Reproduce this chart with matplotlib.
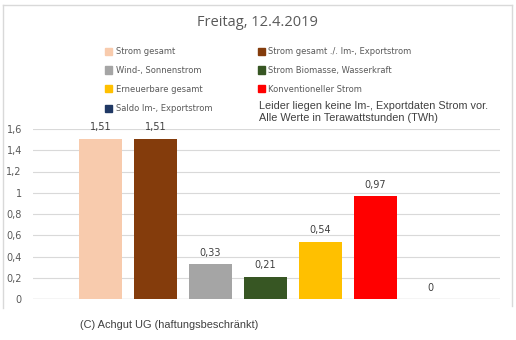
import matplotlib
matplotlib.use("Agg")
import matplotlib.pyplot as plt
from matplotlib.patches import Rectangle
from matplotlib.lines import Line2D

W, H = 516, 340
DPI = 100

title = "Freitag, 12.4.2019"
series = ["Strom gesamt", "Strom gesamt ./. Im-, Exportstrom",
          "Wind-, Sonnenstrom", "Strom Biomasse, Wasserkraft",
          "Erneuerbare gesamt", "Konventioneller Strom",
          "Saldo Im-, Exportstrom"]
values = [1.51, 1.51, 0.33, 0.21, 0.54, 0.97, 0.0]
colors = ["#F8CBAD", "#843C0C", "#A5A5A5", "#375623",
          "#FFC000", "#FF0000", "#203864"]
yticks = [0, 0.2, 0.4, 0.6, 0.8, 1.0, 1.2, 1.4, 1.6]
note = "Leider liegen keine Im-, Exportdaten Strom vor.\nAlle Werte in Terawattstunden (TWh)"
credit = "(C) Achgut UG (haftungsbeschränkt)"

def fmt(v):
    s = f"{v:.2f}".rstrip("0").rstrip(".")
    return s.replace(".", ",")

fig = plt.figure(figsize=(W / DPI, H / DPI), dpi=DPI)
fig.patch.set_facecolor("white")

def fx(px):
    return px / W

def fy(py):
    return 1 - py / H

# outer chart frame (top and sides)
frame_c = "#D9D9D9"
fig.add_artist(Line2D([fx(3), fx(512)], [fy(5), fy(5)], color=frame_c, lw=1.0))
fig.add_artist(Line2D([fx(3), fx(3)], [fy(5), fy(308)], color=frame_c, lw=1.0))
fig.add_artist(Line2D([fx(512), fx(512)], [fy(5), fy(306)], color=frame_c, lw=1.0))

# plot area
left, right, top, bottom = 33, 500, 129, 299
ax = fig.add_axes([fx(left), fy(bottom), fx(right - left), (bottom - top) / H])
pos = list(range(len(values)))
ax.bar(pos, values, width=0.78, color=colors, zorder=3)
ax.set_xlim((left - 100.5) / 55, (right - 100.5) / 55)
ax.set_ylim(0, 1.6)
ax.set_yticks(yticks)
ax.set_yticklabels([fmt(t) if t != 1.0 else "1" for t in yticks])
ax.tick_params(axis="y", length=0, pad=8, labelsize=7, labelcolor="#595959")
ax.set_xticks([])
for lab in ax.get_yticklabels():
    lab.set_fontfamily("DejaVu Sans")
ax.grid(axis="y", color="#D9D9D9", lw=0.8, zorder=0)
for s in ax.spines.values():
    s.set_visible(False)
ax.axhline(0, color="#D9D9D9", lw=1.0, zorder=2)
ax.patch.set_alpha(0)

for p, v in zip(pos, values):
    ax.annotate(fmt(v), (p, v), xytext=(0, 4.5), textcoords="offset points",
                ha="center", va="bottom", fontsize=7, color="#404040",
                family="DejaVu Sans")

# title
fig.text(fx(257), fy(23), title, ha="center", va="center", fontsize=10.5,
         color="#595959", family="Open Sans")

# legend
rows = [51.5, 70, 89, 108.5]
cols = [(108, 116), (261, 268)]
for i, (name, c) in enumerate(zip(series, colors)):
    col = i % 2
    row = i // 2
    mx, tx = cols[col]
    y = rows[row]
    fig.add_artist(Rectangle((fx(mx - 3.5), fy(y + 3.5)), 7 / W, 7 / H,
                             color=c, transform=fig.transFigure))
    fig.text(fx(tx), fy(y), name, ha="left", va="center", fontsize=6.05,
             color="#595959", family="DejaVu Sans")

fig.text(fx(259), fy(101), note, ha="left", va="top", fontsize=7.8,
         color="#404040", family="Liberation Sans", linespacing=1.2)

fig.text(fx(80), fy(325), credit, ha="left", va="center", fontsize=7.9,
         color="#404040", family="Liberation Sans")

fig.savefig("out.png", dpi=DPI, facecolor="white")
